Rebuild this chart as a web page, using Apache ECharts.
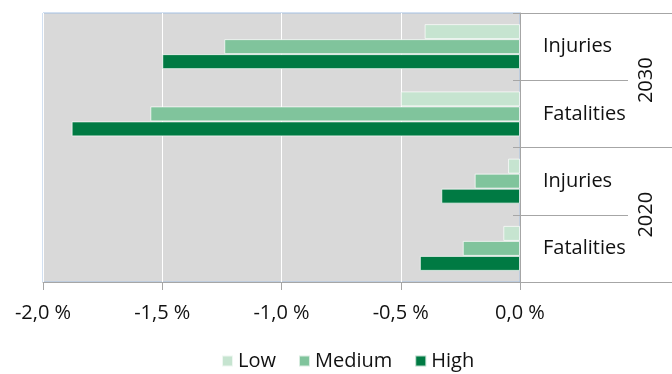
<!DOCTYPE html>
<html>
<head>
<meta charset="utf-8">
<script src="https://cdn.jsdelivr.net/npm/echarts@6/dist/echarts.min.js"></script>
<style>html,body{margin:0;padding:0;background:#fff}#c{width:672px;height:374px}</style>
</head>
<body>
<div id="c"></div>
<script>
const years = ['2030', '2020'];
const categories = ['2030|Injuries', '2030|Fatalities', '2020|Injuries', '2020|Fatalities'];
const seriesNames = ['Low', 'Medium', 'High'];
const low = [-0.40, -0.50, -0.05, -0.07];
const medium = [-1.24, -1.55, -0.19, -0.24];
const high = [-1.50, -1.88, -0.33, -0.42];
const xMin = -2.0, xMax = 0.0, xStep = 0.5;

const colors = ['#c6e4d0', '#80c49c', '#007a43'];
const FONT = '"Open Sans", "Liberation Sans", sans-serif';
const lineGray = '#a6a6a6';

const chart = echarts.init(document.getElementById('c'), null, {renderer: 'canvas'});
const values = [low, medium, high];
chart.setOption({
  animation: false,
  textStyle: {fontFamily: FONT, color: '#111'},
  grid: {left: 43, right: 152, top: 13, bottom: 92, show: true,
         backgroundColor: '#d9d9d9', borderColor: '#a4c0e2', borderWidth: 1},
  legend: {
    data: seriesNames, left: 221, top: 351, padding: 0, icon: 'rect',
    itemWidth: 11, itemHeight: 11, itemGap: 22,
    textStyle: {fontFamily: FONT, fontSize: 20, color: '#111'}
  },
  xAxis: {
    type: 'value', min: xMin, max: xMax, interval: xStep,
    axisLine: {show: true, onZero: false, lineStyle: {color: lineGray}},
    axisTick: {show: true, length: 8, lineStyle: {color: lineGray}},
    splitLine: {show: true, lineStyle: {color: '#ffffff', width: 1}},
    axisLabel: {margin: 21, fontSize: 20, color: '#111', fontFamily: FONT,
      formatter: v => v.toFixed(1).replace('.', ',') + ' %'}
  },
  yAxis: [
    {
      type: 'category', data: categories, inverse: true, position: 'right',
      axisLine: {show: true, lineStyle: {color: lineGray}},
      axisTick: {show: true, length: 108, lineStyle: {color: lineGray}},
      axisLabel: {margin: 23, fontSize: 20, color: '#111', fontFamily: FONT,
        formatter: v => v.split('|')[1]}
    },
    {
      type: 'category', data: years, inverse: true, position: 'right',
      axisLine: {show: false},
      axisTick: {show: true, length: 152, lineStyle: {color: lineGray}},
      axisLabel: {margin: 116, rotate: 90, fontSize: 20, color: '#111', fontFamily: FONT}
    },
    {
      type: 'category', data: categories, inverse: true, position: 'right',
      axisLine: {show: false},
      axisTick: {show: true, inside: true, length: 7, lineStyle: {color: lineGray}},
      axisLabel: {show: false}
    }
  ],
  series: seriesNames.map((name, i) => ({
    name, type: 'bar', yAxisIndex: 0, data: values[i],
    barWidth: 15, barGap: '0%',
    itemStyle: {color: colors[i], borderColor: 'rgba(255,255,255,0.7)', borderWidth: 1}
  }))
});
</script>
</body>
</html>
